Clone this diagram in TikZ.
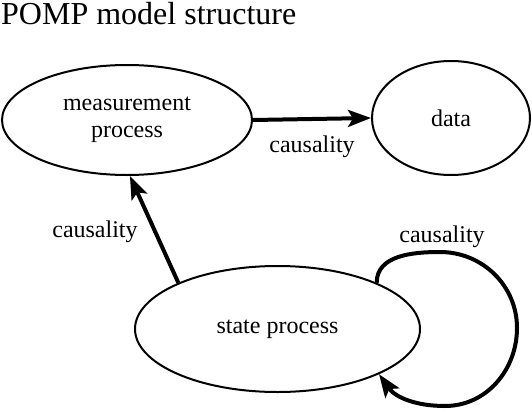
\documentclass[tikz,border=0pt]{standalone}
\usepackage{fontspec}
\setmainfont{Liberation Serif}
\usepackage{tikz}
\usetikzlibrary{shapes.geometric,arrows.meta}
\colorlet{processBorder}{black}
\colorlet{causalArrow}{black}

\begin{document}
\begin{tikzpicture}[
  x=1pt,
  y=-1pt,
  every process/.style={
    draw=processBorder,
    line width=2pt,
    ellipse,
    inner sep=0pt,
    align=center,
    font=\fontsize{24}{27}\selectfont,
  },
  causal/.style={
    draw=causalArrow,
    line width=4pt,
    -{Stealth[length=23pt,width=17pt,inset=5pt]},
  },
  causal label/.style={
    font=\fontsize{24}{27}\selectfont,
    inner sep=0pt,
  },
  title/.style={
    font=\fontsize{32}{36}\selectfont,
    inner sep=0pt,
  },
]
\useasboundingbox (0,0) rectangle (532,412);
\node[title,anchor=base west] (title) at (1,25) {POMP model structure};
\node[every process,minimum width=250pt,minimum height=110pt] (measurement) at (127,120) {measurement\\process};
\node[every process,minimum width=158pt,minimum height=114pt] (data) at (451,118) {data};
\node[every process,minimum width=285pt,minimum height=126pt] (state) at (277.5,329) {state process};
\draw[causal] (measurement.east) -- (data.west);
\node[causal label] (lab1) at (312,147) {causality};
\draw[causal] (state.155) -- (measurement.-87);
\node[causal label] (lab2) at (95,232) {causality};
\coordinate (loopTop) at (440,252);
\coordinate (loopRight) at (517,328);
\coordinate (loopBottom) at (445,406);
\draw[causal] (state.25) to[out=90,in=180] (loopTop)
  to[out=0,in=90] (loopRight)
  to[out=-90,in=0] (loopBottom)
  to[out=180,in=-55] (state.-24);
\node[causal label] (lab3) at (442,237) {causality};
\end{tikzpicture}
\end{document}
